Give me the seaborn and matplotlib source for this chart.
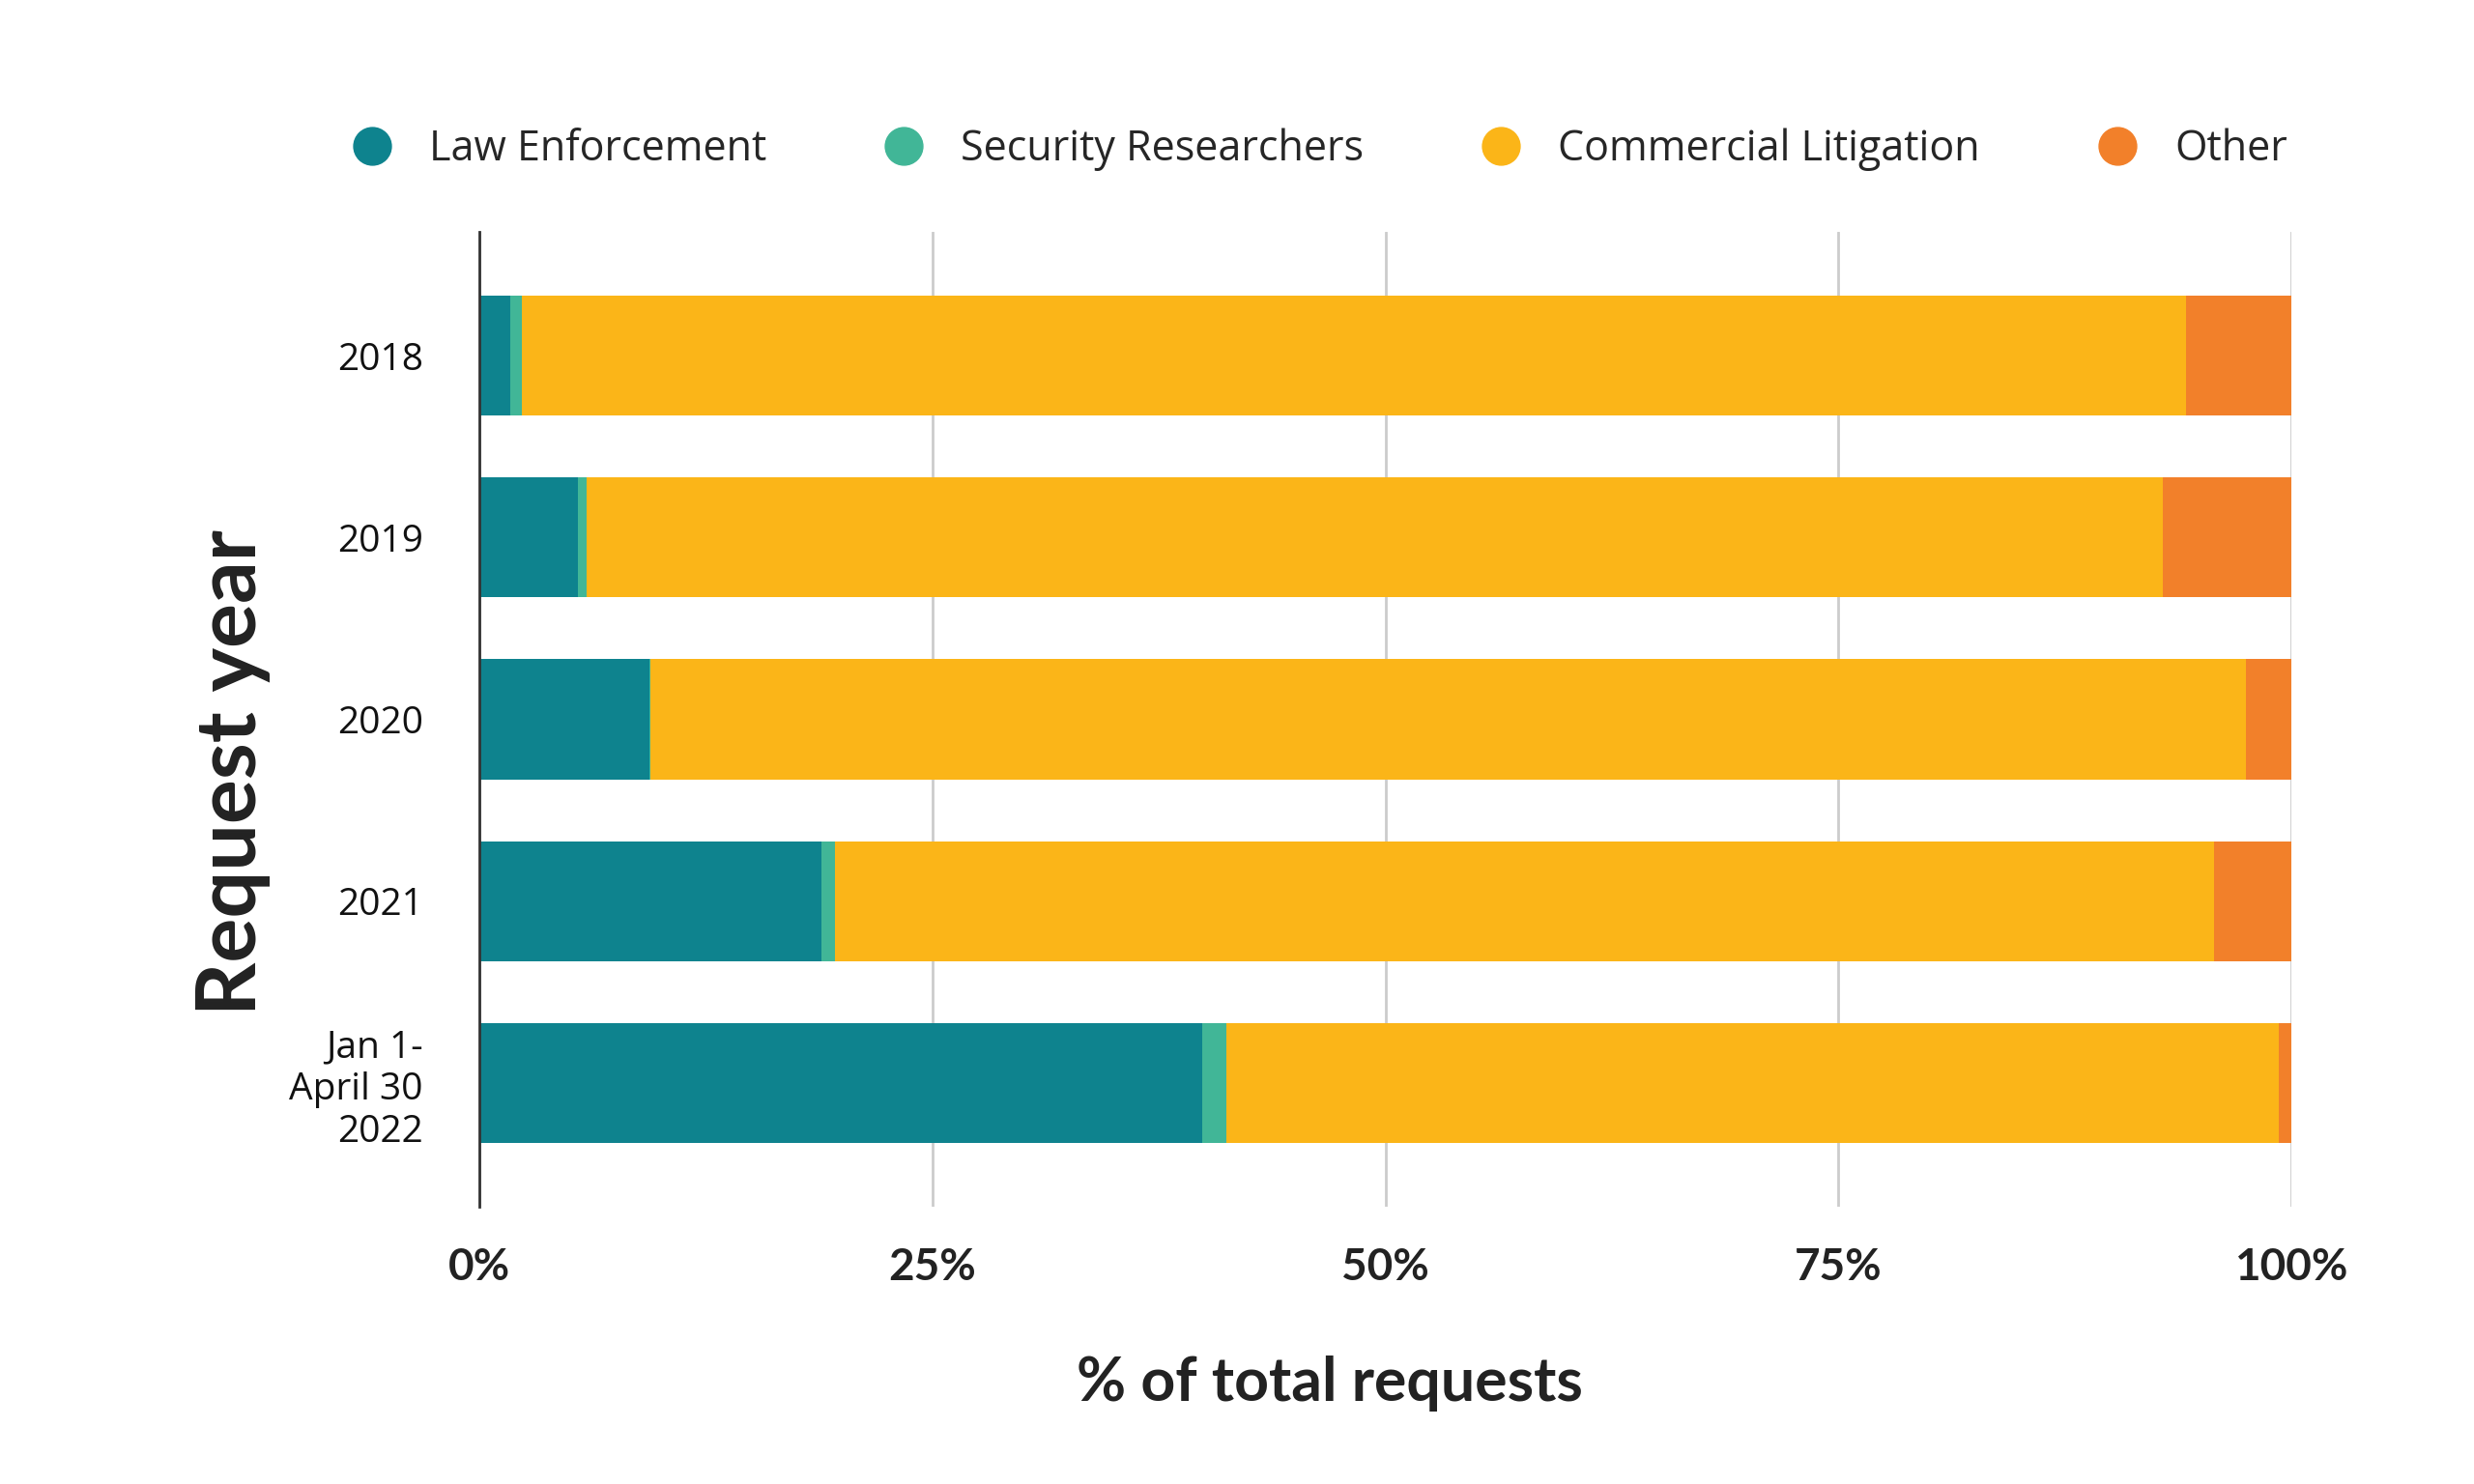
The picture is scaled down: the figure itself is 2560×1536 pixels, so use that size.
import numpy as np
import pandas as pd
import matplotlib
matplotlib.use('Agg')
import matplotlib.pyplot as plt
from matplotlib.lines import Line2D
import seaborn as sns

years = ['2018', '2019', '2020', '2021', 'Jan 1-\nApril 30\n2022']
law_enforcement = [1.7, 5.45, 9.4, 18.9, 39.9]
security_researchers = [0.65, 0.45, 0.05, 0.7, 1.3]
commercial_litigation = [91.85, 87.0, 88.05, 76.15, 58.1]
other = [5.8, 7.1, 2.5, 4.25, 0.7]

categories = ['Law Enforcement', 'Security Researchers', 'Commercial Litigation', 'Other']
colors = ['#0E838E', '#41B697', '#FBB518', '#F2802A']

df = pd.DataFrame({'year': years,
                   'Law Enforcement': law_enforcement,
                   'Security Researchers': security_researchers,
                   'Commercial Litigation': commercial_litigation,
                   'Other': other})
# cumulative sums for stacking (draw the longest first)
cum = df[categories].cumsum(axis=1)
cum['year'] = df['year']

sns.set_style('white')
plt.rcParams['font.family'] = ['Open Sans', 'DejaVu Sans']

fig = plt.figure(figsize=(25.6, 15.36), dpi=100)
ax = fig.add_axes([496/2560, 1-1249/1536, (2371-496)/2560, (1249-240)/1536])

for cat, col in reversed(list(zip(categories, colors))):
    sns.barplot(data=cum, x=cat, y='year', order=years, color=col,
                orient='h', width=0.66, saturation=1, ax=ax, zorder=3,
                linewidth=0)

ax.set_xlim(0, 100)
ax.set_ylim(4.68, -0.68)
ax.set_xticks([0, 25, 50, 75, 100])
ax.set_xticklabels(['0%', '25%', '50%', '75%', '100%'],
                   fontsize=33, family='Lato', fontweight='bold', color='#222222')
ax.tick_params(axis='x', length=0, pad=30)
ax.tick_params(axis='y', length=0, pad=42, labelsize=28)
for lab in ax.get_yticklabels():
    lab.set_linespacing(1.2)
    lab.set_color('#111111')

ax.grid(axis='x', color='#cccccc', linewidth=2, zorder=0)
ax.grid(axis='y', visible=False)
for s in ['top', 'right', 'bottom']:
    ax.spines[s].set_visible(False)
ax.spines['left'].set_color('#333333')
ax.spines['left'].set_linewidth(2)
ax.spines['left'].set_zorder(4)

ax.set_xlabel('% of total requests', fontsize=45, family='Lato',
              fontweight='bold', color='#222222')
ax.xaxis.set_label_coords(0.4695, -0.181)
ax.xaxis.label.set_va('center')
ax.set_ylabel('Request year', fontsize=62, family='Lato',
              fontweight='bold', color='#222222')
ax.yaxis.set_label_coords(-0.136, 0.445)
ax.yaxis.label.set_va('center')

handles = [Line2D([0], [0], marker='o', linestyle='', markersize=28,
                  markerfacecolor=c, markeredgecolor=c) for c in colors]
fig.legend(handles, categories, loc='center', ncol=4,
           bbox_to_anchor=(0.529, 1-155/1536), frameon=False,
           fontsize=31, handlelength=2, handletextpad=0.37, columnspacing=2.3)

fig.savefig('out.png', dpi=100, facecolor='white')
